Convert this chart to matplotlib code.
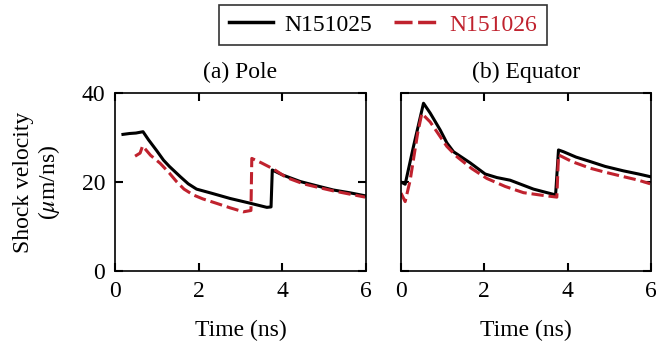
import matplotlib
matplotlib.use("Agg")
import matplotlib.pyplot as plt
from matplotlib.lines import Line2D

plt.rcParams['font.family'] = ['Liberation Serif', 'DejaVu Serif']
plt.rcParams['mathtext.fontset'] = 'stix'

RED = '#c0222e'

# (a) Pole
pole_t_25 = [0.19, 0.35, 0.5, 0.67, 0.8, 1.0, 1.16, 1.3, 1.56, 1.75, 1.95, 2.3, 2.75, 3.2, 3.63, 3.73, 3.76, 4.0, 4.43, 4.8, 5.22, 5.6, 5.98]
pole_v_25 = [30.7, 30.9, 31.0, 31.3, 29.5, 27.0, 24.9, 23.5, 21.2, 19.6, 18.4, 17.5, 16.3, 15.3, 14.3, 14.4, 22.7, 21.6, 20.1, 19.2, 18.2, 17.6, 16.9]
pole_t_26 = [0.48, 0.6, 0.66, 0.85, 1.08, 1.3, 1.47, 1.65, 1.87, 2.1, 2.43, 2.75, 3.07, 3.25, 3.27, 3.5, 3.79, 4.1, 4.5, 4.85, 5.22, 5.6, 5.98]
pole_v_26 = [25.8, 26.5, 28.1, 26.0, 24.2, 22.0, 20.1, 18.4, 17.1, 16.2, 15.2, 14.2, 13.3, 13.6, 25.3, 24.3, 22.9, 21.0, 19.6, 18.8, 18.0, 17.3, 16.6]

# (b) Equator
eq_t_25 = [0.0, 0.1, 0.3, 0.54, 0.7, 0.94, 1.1, 1.26, 1.66, 2.02, 2.3, 2.62, 3.18, 3.71, 3.78, 3.9, 4.2, 4.54, 4.9, 5.34, 5.7, 5.98]
eq_v_25 = [20.0, 19.5, 28.0, 37.7, 35.5, 31.7, 28.8, 26.8, 24.3, 21.8, 21.0, 20.4, 18.4, 17.1, 27.2, 26.8, 25.6, 24.6, 23.5, 22.5, 21.8, 21.2]
eq_t_26 = [0.0, 0.1, 0.22, 0.4, 0.5, 0.7, 0.94, 1.1, 1.34, 1.7, 2.06, 2.5, 2.94, 3.4, 3.74, 3.78, 4.1, 4.54, 4.9, 5.34, 5.7, 5.98]
eq_v_26 = [17.5, 15.6, 20.4, 31.0, 35.4, 33.5, 30.2, 28.0, 25.7, 23.0, 20.8, 19.0, 17.6, 17.0, 16.6, 26.1, 24.6, 23.1, 22.2, 21.2, 20.4, 19.6]

titles = ['(a) Pole', '(b) Equator']
labels = ['N151025', 'N151026']

fig = plt.figure(figsize=(6.56, 3.44), dpi=100)
ax1 = fig.add_axes([115/656, 1 - 271/344, 251/656, 178/344])
ax2 = fig.add_axes([401/656, 1 - 271/344, 250/656, 178/344])

FS = 17
for ax, (t1, v1, t2, v2), title in [
    (ax1, (pole_t_25, pole_v_25, pole_t_26, pole_v_26), titles[0]),
    (ax2, (eq_t_25, eq_v_25, eq_t_26, eq_v_26), titles[1]),
]:
    ax.plot(t1, v1, color='black', lw=2.2, solid_joinstyle='round')
    ax.plot(t2, v2, color=RED, lw=2.2, ls=(0, (4, 1.6)))
    ax.set_xlim(0, 6)
    ax.set_ylim(0, 40)
    ax.set_xticks([0, 2, 4, 6])
    ax.set_yticks([0, 20, 40])
    ax.tick_params(direction='in', top=True, right=True, length=6, width=1.5,
                   labelsize=FS, pad=7)
    for s in ax.spines.values():
        s.set_linewidth(1.2)
    ax.set_title(title, fontsize=FS, pad=11)
    ax.set_xlabel('Time (ns)', fontsize=FS, labelpad=13)

ax2.set_yticklabels([])
ax1.set_ylabel('Shock velocity\n($\\mu$m/ns)', fontsize=FS, labelpad=14, linespacing=1.1)

handles = [Line2D([], [], color='black', lw=2.5),
           Line2D([], [], color=RED, lw=2.5, ls=(0, (5.2, 1.6)))]
leg = fig.legend(handles, labels, loc='upper center', bbox_to_anchor=(383/656, 1.0),
                 ncol=2, fontsize=FS, frameon=True, fancybox=False,
                 edgecolor='black', handlelength=1.9, columnspacing=0.95,
                 borderpad=0.4, handletextpad=0.45, borderaxespad=0.2)
leg.get_frame().set_linewidth(1.2)
leg.get_texts()[1].set_color(RED)

fig.savefig('out.png', dpi=100)
